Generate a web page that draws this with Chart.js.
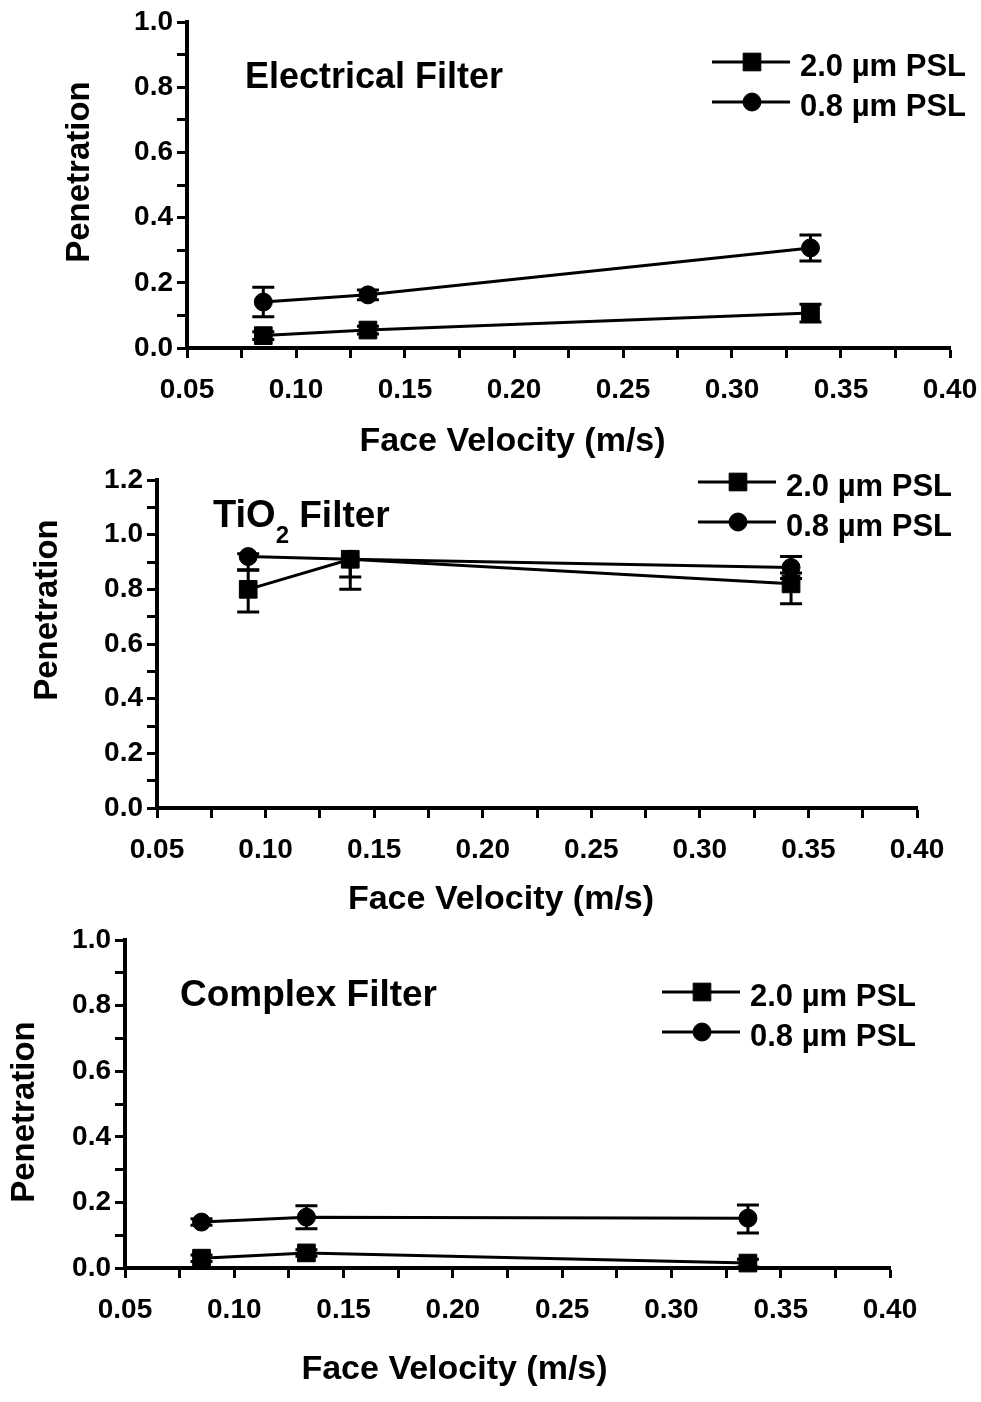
<!DOCTYPE html>
<html>
<head>
<meta charset="utf-8">
<title>Penetration vs Face Velocity</title>
<script src="https://cdn.jsdelivr.net/npm/chart.js@4.4.0/dist/chart.umd.min.js"></script>
<style>
    html, body { margin: 0; padding: 0; background: #fff; }
    body { width: 981px; height: 1402px; position: relative; overflow: hidden; }
    .painel { position: absolute; left: 0; width: 981px; }
    .painel canvas { display: block; }
</style>
</head>
<body>
<div class="painel" style="top:0;height:465px"><canvas id="chartElectrical" width="981" height="465"></canvas></div>
<div class="painel" style="top:465px;height:460px"><canvas id="chartTiO2" width="981" height="460"></canvas></div>
<div class="painel" style="top:925px;height:477px"><canvas id="chartComplex" width="981" height="477"></canvas></div>

<script>
// ============================================================================
// DATA
// ============================================================================

const serieLabels = ['2.0 µm PSL', '0.8 µm PSL'];

const xTickLabels = ['0.05', '0.10', '0.15', '0.20', '0.25', '0.30', '0.35', '0.40'];
const yTickLabels = ['0.0', '0.2', '0.4', '0.6', '0.8', '1.0'];
const yTickLabelsTiO2 = ['0.0', '0.2', '0.4', '0.6', '0.8', '1.0', '1.2'];

// Electrical filter
const velElectrical = [0.085, 0.133, 0.336];
const elec20 = [0.038, 0.055, 0.107];
const elec20Err = [[0.012, 0.012], [0.012, 0.012], [0.027, 0.027]];
const elec08 = [0.141, 0.163, 0.307];
const elec08Err = [[0.045, 0.045], [0.015, 0.015], [0.04, 0.04]];

// TiO2 filter  (errors as [minus, plus])
const velTiO2 = [0.092, 0.139, 0.342];
const tio20 = [0.80, 0.91, 0.82];
const tio20Err = [[0.083, 0.072], [0.11, 0], [0.073, 0.02]];
const tio08 = [0.92, 0.91, 0.88];
const tio08Err = [[0.05, 0.01], [0.065, 0], [0.02, 0.04]];

// Complex filter
const velComplex = [0.085, 0.133, 0.335];
const comp20 = [0.03, 0.046, 0.015];
const comp20Err = [[0.01, 0.01], [0.01, 0.01], [0.012, 0.012]];
const comp08 = [0.14, 0.155, 0.152];
const comp08Err = [[0.01, 0.01], [0.035, 0.035], [0.045, 0.04]];

// ============================================================================
// STYLE
// ============================================================================

const INK = '#000';
const FONT = '"Liberation Sans", Arial, Helvetica, sans-serif';
Chart.defaults.font.family = FONT;
Chart.defaults.color = INK;

// error bars drawn through the chart scales
const errorBarPlugin = {
    id: 'errorBars',
    afterDatasetsDraw(chart) {
        const { ctx, scales: { x, y } } = chart;
        ctx.save();
        ctx.strokeStyle = INK;
        ctx.lineWidth = 3;
        chart.data.datasets.forEach(ds => {
            if (!ds.errors) return;
            ds.data.forEach((p, i) => {
                const [lo, hi] = ds.errors[i];
                const px = x.getPixelForValue(p.x);
                const yLo = y.getPixelForValue(p.y - lo);
                const yHi = y.getPixelForValue(p.y + hi);
                ctx.beginPath();
                ctx.moveTo(px, yLo);
                ctx.lineTo(px, yHi);
                if (lo > 0) { ctx.moveTo(px - 11, yLo); ctx.lineTo(px + 11, yLo); }
                if (hi > 0) { ctx.moveTo(px - 11, yHi); ctx.lineTo(px + 11, yHi); }
                ctx.stroke();
            });
        });
        ctx.restore();
    }
};

// panel title, axis titles and the line-marker-line legend
const decorPlugin = {
    id: 'decor',
    afterDraw(chart, args, opts) {
        const { ctx, chartArea: a } = chart;
        ctx.save();
        ctx.fillStyle = INK;
        ctx.strokeStyle = INK;

        // panel title (parts allow the subscript in TiO2)
        ctx.textAlign = 'left';
        ctx.textBaseline = 'alphabetic';
        let tx = a.left + opts.titleDx;
        const ty = a.top + opts.titleDy;
        opts.title.forEach(part => {
            ctx.font = 'bold ' + part.size + 'px ' + FONT;
            ctx.fillText(part.text, tx, ty + (part.dy || 0));
            tx += ctx.measureText(part.text).width;
        });

        // axis titles
        ctx.font = 'bold 34px ' + FONT;
        ctx.textAlign = 'center';
        ctx.textBaseline = 'middle';
        ctx.fillText('Face Velocity (m/s)', (a.left + a.right) / 2 + opts.xTitleDx, opts.xTitleY);
        ctx.save();
        ctx.translate(opts.yTitleX, (a.top + a.bottom) / 2 + opts.yTitleDy);
        ctx.rotate(-Math.PI / 2);
        ctx.font = 'bold 33px ' + FONT;
        ctx.fillText('Penetration', 0, 0);
        ctx.restore();

        // legend
        chart.data.datasets.forEach((ds, i) => {
            const ly = a.top + opts.legendDy + i * 40;
            const lx = a.right - opts.legendDx;
            ctx.lineWidth = 3;
            ctx.beginPath();
            ctx.moveTo(lx - 88, ly);
            ctx.lineTo(lx - 10, ly);
            ctx.stroke();
            ctx.lineWidth = 1;
            Chart.helpers.drawPoint(ctx, {
                pointStyle: ds.pointStyle, radius: ds.pointRadius, rotation: 0, borderWidth: 1
            }, lx - 48, ly);
            ctx.font = 'bold 31px ' + FONT;
            ctx.textAlign = 'left';
            ctx.textBaseline = 'middle';
            ctx.fillText(ds.label, lx, ly + 5);
        });
        ctx.restore();
    }
};

function montarSerie(label, vel, valores, erros, estilo, raio) {
    return {
        label: label,
        data: vel.map((v, i) => ({ x: v, y: valores[i] })),
        errors: erros,
        borderColor: INK,
        backgroundColor: INK,
        borderWidth: 3,
        tension: 0,
        pointStyle: estilo,
        pointRadius: raio,
        pointBackgroundColor: INK,
        pointBorderColor: INK,
        pointBorderWidth: 1,
        clip: false
    };
}

function criarPainel(id, cfg) {
    const ctx = document.getElementById(id);
    if (!ctx) return;

    const tickFont = { family: FONT, size: 28, weight: 'bold', lineHeight: 1 };

    new Chart(ctx, {
        type: 'line',
        data: {
            datasets: [
                montarSerie(serieLabels[0], cfg.vel, cfg.s20, cfg.e20, 'rect', 12.5),
                montarSerie(serieLabels[1], cfg.vel, cfg.s08, cfg.e08, 'circle', 9)
            ]
        },
        options: {
            responsive: false,
            animation: false,
            events: [],
            layout: { padding: cfg.padding },
            plugins: {
                legend: { display: false },
                tooltip: { enabled: false },
                decor: cfg.decor
            },
            scales: {
                x: {
                    type: 'linear',
                    min: 0.05,
                    max: 0.40,
                    // fixed axis box, so the plot area is set by layout padding only
                    afterFit: s => {
                        s.height = cfg.xHeight;
                        s.paddingLeft = 0;
                        s.paddingRight = 0;
                    },
                    border: { color: INK, width: 4 },
                    grid: { drawOnChartArea: false, drawTicks: true, tickLength: 10, tickWidth: 3, tickColor: INK },
                    ticks: {
                        stepSize: 0.025,
                        autoSkip: false,
                        maxRotation: 0,
                        padding: 18,
                        color: INK,
                        font: tickFont,
                        callback: function(value) {
                            const s = Number(value).toFixed(2);
                            return xTickLabels.includes(s) ? s : '';
                        }
                    }
                },
                y: {
                    type: 'linear',
                    min: 0,
                    max: cfg.yMax,
                    afterFit: s => {
                        s.width = cfg.yWidth;
                        s.paddingTop = 0;
                        s.paddingBottom = 0;
                    },
                    border: { color: INK, width: 4 },
                    grid: { drawOnChartArea: false, drawTicks: true, tickLength: 10, tickWidth: 3, tickColor: INK },
                    ticks: {
                        stepSize: 0.1,
                        autoSkip: false,
                        padding: 4,
                        color: INK,
                        font: tickFont,
                        callback: function(value) {
                            const s = Number(value).toFixed(1);
                            return cfg.yLabels.includes(s) ? s : '';
                        }
                    }
                }
            }
        },
        plugins: [errorBarPlugin, decorPlugin]
    });
}

// ============================================================================
// INIT
// ============================================================================

criarPainel('chartElectrical', {
    vel: velElectrical, s20: elec20, e20: elec20Err, s08: elec08, e08: elec08Err,
    yMax: 1.0, yLabels: yTickLabels,
    padding: { left: 60, right: 31, top: 22, bottom: 3 },
    yWidth: 127, xHeight: 114,
    decor: {
        title: [{ text: 'Electrical Filter', size: 36 }],
        titleDx: 58, titleDy: 66,
        legendDx: 150, legendDy: 40,
        xTitleDx: -56, xTitleY: 442,
        yTitleX: 80, yTitleDy: -13
    }
});

criarPainel('chartTiO2', {
    vel: velTiO2, s20: tio20, e20: tio20Err, s08: tio08, e08: tio08Err,
    yMax: 1.2, yLabels: yTickLabelsTiO2,
    padding: { left: 28, right: 64, top: 15, bottom: 5 },
    yWidth: 129, xHeight: 112,
    decor: {
        title: [
            { text: 'TiO', size: 38 },
            { text: '2', size: 24, dy: 16 },
            { text: ' Filter', size: 37 }
        ],
        titleDx: 56, titleDy: 47,
        legendDx: 131, legendDy: 2,
        xTitleDx: -36, xTitleY: 435,
        yTitleX: 48, yTitleDy: -34
    }
});

criarPainel('chartComplex', {
    vel: velComplex, s20: comp20, e20: comp20Err, s08: comp08, e08: comp08Err,
    yMax: 1.0, yLabels: yTickLabels,
    padding: { left: 5, right: 91, top: 15, bottom: 12 },
    yWidth: 120, xHeight: 122,
    decor: {
        title: [{ text: 'Complex Filter', size: 37 }],
        titleDx: 55, titleDy: 66,
        legendDx: 140, legendDy: 52,
        xTitleDx: -53, xTitleY: 445,
        yTitleX: 25, yTitleDy: 8
    }
});
</script>
</body>
</html>
